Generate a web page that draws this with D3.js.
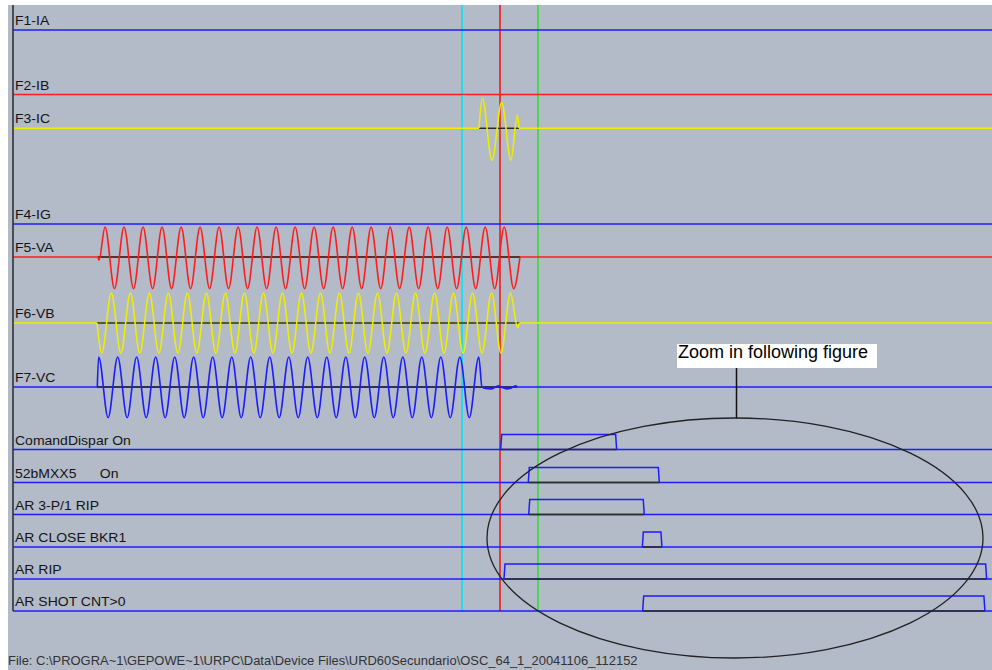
<!DOCTYPE html>
<html><head><meta charset="utf-8">
<script src="https://cdn.jsdelivr.net/npm/d3@7"></script>
<style>
html,body{margin:0;padding:0;background:#ffffff;}
svg{display:block;}
text{font-family:"Liberation Sans",Arial,sans-serif;}
</style></head><body>
<svg id="chart" width="992" height="670"></svg>
<script>
// ================= DATA =================
// time in ms relative to the red cursor (60 Hz record)
const analogNames = ["F1-IA", "F2-IB", "F3-IC", "F4-IG", "F5-VA", "F6-VB", "F7-VC"];
const digitalNames = ["ComandDispar On", "52bMXX5      On", "AR 3-P/1 RIP", "AR CLOSE BKR1", "AR RIP", "AR SHOT CNT>0"];
const cursorTimes = [-33.3, 0, 33.3];

// F3-IC (fault current burst) : sample times and per-unit values
const icT = [-18.4, -15.5, -7.0, 1.5, 9.6, 15.2, 16.7];
const icV = [0, 0.97, -1.03, 0.84, -1.03, 0.42, 0];

// F5-VA : extrema
const vaT = [-352.4, -351.6,
  -346.3, -338.0, -329.6, -321.3, -313.0, -304.6, -296.3, -288.0, -279.6, -271.3,
  -263.0, -254.6, -246.3, -238.0, -229.6, -221.3, -213.0, -204.6, -196.3, -188.0,
  -179.6, -171.3, -163.0, -154.6, -146.3, -138.0, -129.6, -121.3, -113.0, -104.6,
  -96.3, -88.0, -79.6, -71.3, -63.0, -54.6, -46.3, -38.0, -29.6, -21.3,
  -13.0, -4.6, 3.7, 12.0,
  17.5];
const vaV = [0, -0.1,
  0.97, -1.02, 0.97, -1.02, 0.97, -1.02, 0.97, -1.02, 0.97, -1.02,
  0.97, -1.02, 0.97, -1.02, 0.97, -1.02, 0.97, -1.02, 0.97, -1.02,
  0.97, -1.02, 0.97, -1.02, 0.97, -1.02, 0.97, -1.02, 0.97, -1.02,
  0.97, -1.02, 0.97, -1.02, 0.97, -1.02, 0.97, -1.02, 0.97, -1.02,
  0.97, -1.02, 0.97, -1.02,
  0];

// F6-VB
const vbT = [-353.3,
  -349.1, -340.8, -332.4, -324.1, -315.8, -307.4, -299.1, -290.8, -282.4, -274.1,
  -265.8, -257.4, -249.1, -240.8, -232.4, -224.1, -215.8, -207.4, -199.1, -190.8,
  -182.4, -174.1, -165.8, -157.4, -149.1, -140.8, -132.4, -124.1, -115.8, -107.4,
  -99.1, -90.8, -82.4, -74.1, -65.8, -57.4, -49.1, -40.8, -32.4, -24.1,
  -15.8, -7.4, 0.9, 9.2,
  15.5, 17.0];
const vbV = [0,
  -0.97, 0.97, -0.97, 0.97, -0.97, 0.97, -0.97, 0.97, -0.97, 0.97,
  -0.97, 0.97, -0.97, 0.97, -0.97, 0.97, -0.97, 0.97, -0.97, 0.97,
  -0.97, 0.97, -0.97, 0.97, -0.97, 0.97, -0.97, 0.97, -0.97, 0.97,
  -0.97, 0.97, -0.97, 0.97, -0.97, 0.97, -0.97, 0.97, -0.97, 0.97,
  -0.97, 0.97, -0.97, 0.97,
  -0.15, 0];

// F7-VC (collapses at fault inception)
const vcT = [-353.1,
  -351.9, -343.6, -335.2, -326.9, -318.6, -310.2, -301.9, -293.6, -285.2, -276.9,
  -268.6, -260.2, -251.9, -243.6, -235.2, -226.9, -218.6, -210.2, -201.9, -193.6,
  -185.2, -176.9, -168.6, -160.2, -151.9, -143.6, -135.2, -126.9, -118.6, -110.2,
  -101.9, -93.6, -85.2, -76.9, -68.6, -60.2, -51.9, -43.6, -35.2, -26.9,
  -18.6,
  -15.8, -12.5, -8.0, -3.0, -1.5, 2.0, 6.0, 10.0, 14.0, 15.0];
const vcV = [0,
  0.97, -0.99, 0.97, -0.99, 0.97, -0.99, 0.97, -0.99, 0.97, -0.99,
  0.97, -0.99, 0.97, -0.99, 0.97, -0.99, 0.97, -0.99, 0.97, -0.99,
  0.97, -0.99, 0.97, -0.99, 0.97, -0.99, 0.97, -0.99, 0.97, -0.99,
  0.97, -0.99, 0.97, -0.99, 0.97, -0.99, 0.97, -0.99, 0.97, -0.99,
  0.97,
  0, -0.05, -0.06, 0.02, 0.04, -0.02, -0.06, -0.03, 0.04, 0];

// digital channels: pickup / dropout times (ms)
const digOn  = [0.6, 24.8, 25.2, 124.8, 3.5, 125.1];
const digOff = [102.3, 139.7, 126.5, 142.0, 426.7, 425.2];

const annotationText = "Zoom in following figure";
const footerText = "File: C:\\PROGRA~1\\GEPOWE~1\\URPC\\Data\\Device Files\\URD60Secundario\\OSC_64_1_20041106_112152";

// ================= LAYOUT / STYLE =================
const W = 992, H = 670;
const timeDomain = [-427, 431.4];
const plotLeft = 13, plotRight = 992, plotTop = 5, plotBottom = 611;
const analogRowY = [30, 94.5, 128.3, 224, 257, 323, 387];
const digitalRowY = [449.5, 482.5, 514.5, 547, 579, 611];
const BLUE = "#1c1cff", RED = "#ff1c1c", YEL = "#eeee00";
const analogColors = [BLUE, RED, YEL, BLUE, RED, YEL, BLUE];
const cursorColors = ["#00e6f0", "#ee1c1c", "#33dd33"];
const BG = "#b3bac8";
const edge = 0.9; // ms slant of digital transitions

const analogSeries = [null, null, {t: icT, v: icV}, null, {t: vaT, v: vaV}, {t: vbT, v: vbV}, {t: vcT, v: vcV}];

// ================= DRAW =================
const svg = d3.select("#chart");
const x = d3.scaleLinear().domain(timeDomain).range([plotLeft, plotRight]);
const yA = d3.scaleLinear().domain([-1, 1]).range([31, -31]);
const yD = d3.scaleLinear().domain([0, 1]).range([0, -15]);

svg.append("rect").attr("x", 8).attr("y", 5).attr("width", W - 8).attr("height", H - 5).attr("fill", BG);

// cursors
svg.append("g").selectAll("line").data(cursorTimes).join("line")
  .attr("x1", d => x(d)).attr("x2", d => x(d))
  .attr("y1", plotTop).attr("y2", plotBottom)
  .attr("stroke", (d, i) => cursorColors[i]).attr("stroke-width", 1.6);

// analog channels
const gA = svg.append("g");
analogNames.forEach((name, i) => {
  const y0 = analogRowY[i];
  gA.append("line").attr("x1", plotLeft).attr("x2", plotRight).attr("y1", y0).attr("y2", y0)
    .attr("stroke", analogColors[i]).attr("stroke-width", 1.6);
  const s = analogSeries[i];
  if (s) {
    const pts = s.t.map((t, k) => ({t, v: s.v[k]}));
    gA.append("line").attr("x1", x(d3.min(s.t))).attr("x2", x(d3.max(s.t))).attr("y1", y0).attr("y2", y0)
      .attr("stroke", "#2a2a2a").attr("stroke-width", 1.6);
    const line = d3.line().x(d => x(d.t)).y(d => y0 + yA(d.v)).curve(d3.curveMonotoneX);
    gA.append("path").attr("d", line(pts)).attr("fill", "none")
      .attr("stroke", analogColors[i]).attr("stroke-width", 1.6).attr("stroke-linejoin", "round");
  }
  gA.append("text").attr("transform", `translate(15,${y0 - 5}) scale(1.12,1)`)
    .attr("font-size", 12.5).attr("fill", "#141414").text(name);
});

// digital channels
const gD = svg.append("g");
digitalNames.forEach((name, i) => {
  const y0 = digitalRowY[i];
  gD.append("line").attr("x1", plotLeft).attr("x2", plotRight).attr("y1", y0).attr("y2", y0)
    .attr("stroke", BLUE).attr("stroke-width", 1.6);
  gD.append("line").attr("x1", x(digOn[i])).attr("x2", x(digOff[i])).attr("y1", y0).attr("y2", y0)
    .attr("stroke", "#2a2a2a").attr("stroke-width", 1.6);
  const pts = [{t: digOn[i], v: 0}, {t: digOn[i] + edge, v: 1}, {t: digOff[i] - edge, v: 1}, {t: digOff[i], v: 0}];
  const line = d3.line().x(d => x(d.t)).y(d => y0 + yD(d.v));
  gD.append("path").attr("d", line(pts)).attr("fill", "none")
    .attr("stroke", BLUE).attr("stroke-width", 1.5);
  gD.append("text").attr("transform", `translate(15,${y0 - 5}) scale(1.12,1)`)
    .attr("font-size", 12.5).attr("fill", "#141414").style("white-space", "pre").text(name);
});

// left axis
svg.append("line").attr("x1", plotLeft).attr("x2", plotLeft).attr("y1", plotTop).attr("y2", plotBottom)
  .attr("stroke", "#333").attr("stroke-width", 1.6);

// annotation
svg.append("rect").attr("x", 677).attr("y", 344).attr("width", 200).attr("height", 24).attr("fill", "#ffffff");
svg.append("text").attr("x", 678).attr("y", 358).attr("font-size", 18).attr("fill", "#000").text(annotationText);
svg.append("line").attr("x1", 736.5).attr("x2", 736.5).attr("y1", 368).attr("y2", 418.5)
  .attr("stroke", "#111").attr("stroke-width", 1.5);
svg.append("ellipse").attr("cx", 735).attr("cy", 538).attr("rx", 248).attr("ry", 120)
  .attr("fill", "none").attr("stroke", "#222").attr("stroke-width", 1.3);

// footer
svg.append("text").attr("transform", "translate(8,665) scale(1.08,1)")
  .attr("font-size", 12).attr("fill", "#333").text(footerText);
</script>
</body></html>
